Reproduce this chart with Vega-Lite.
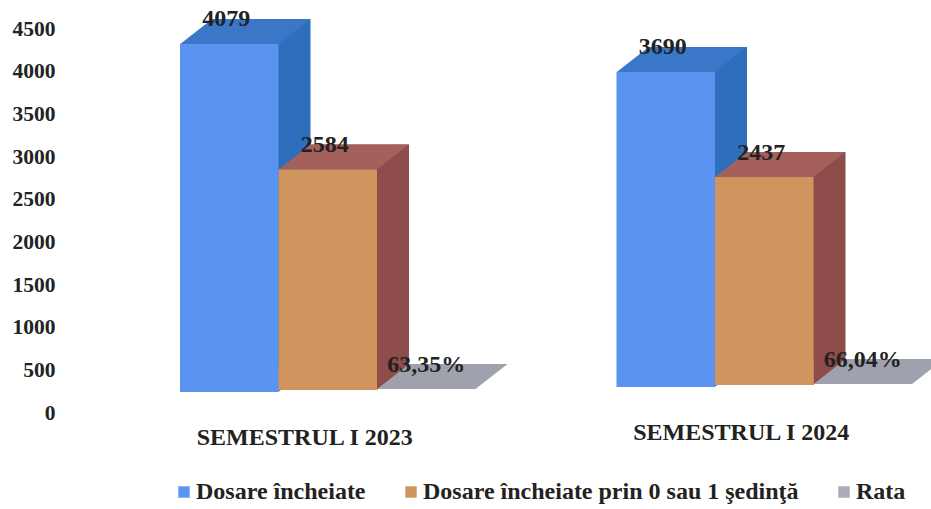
{
"$schema":"https://vega.github.io/schema/vega-lite/v6.json",
"width":871,"height":384,
"autosize":{"type":"none"},
"padding":{"left":60,"top":29,"right":0,"bottom":96},
"background":"#ffffff",
"datasets":{"main":[
{"semester":"SEMESTRUL I 2023","series":"Dosare încheiate","value":4079,"label":"4079"},
{"semester":"SEMESTRUL I 2023","series":"Dosare încheiate prin 0 sau 1 şedinţă","value":2584,"label":"2584"},
{"semester":"SEMESTRUL I 2023","series":"Rata","value":0.6335,"label":"63,35%"},
{"semester":"SEMESTRUL I 2024","series":"Dosare încheiate","value":3690,"label":"3690"},
{"semester":"SEMESTRUL I 2024","series":"Dosare încheiate prin 0 sau 1 şedinţă","value":2437,"label":"2437"},
{"semester":"SEMESTRUL I 2024","series":"Rata","value":0.6604,"label":"66,04%"}
]},
"data":{"name":"main"},
"encoding":{
"x":{"field":"semester","type":"nominal","title":null,"axis":null,"scale":{"range":[120,852],"paddingInner":0.323,"paddingOuter":0}}
},
"layer":[
{"mark":{"type":"bar","yOffset":{"expr":"-46-(datum.semester=='SEMESTRUL I 2024'?5:0)-(datum.series=='Rata'?3:datum.series=='Dosare încheiate'?0:2)"},"opacity":1},
 "encoding":{
  "xOffset":{"field":"series","type":"nominal","sort":null,"scale":{"domain":["Dosare încheiate","Dosare încheiate prin 0 sau 1 şedinţă","Rata"],"range":[32,327.5],"paddingInner":0,"paddingOuter":0}},
  "y":{"field":"value","type":"quantitative","scale":{"domain":[0,4500]},"title":null,
   "axis":{"values":[0,500,1000,1500,2000,2500,3000,3500,4000,4500],"grid":false,"ticks":false,"domain":false,"labelFont":"Liberation Serif","labelFontWeight":"bold","labelFontSize":21.5,"labelColor":"#222222","labelPadding":5,"format":"d"}},
  "color":{"field":"series","type":"nominal","legend":null,"sort":null,"scale":{"domain":["Dosare încheiate","Dosare încheiate prin 0 sau 1 şedinţă","Rata"],"range":["#2f6dbd","#8e4c4a","#9a9da8"]}}
 }},
{"mark":{"type":"point","filled":true,"opacity":1,"strokeWidth":0,"size":4,"shape":"M49,0L49,-25L81,-25Z","yOffset":{"expr":"-21-(datum.semester=='SEMESTRUL I 2024'?5:0)-(datum.series=='Rata'?3:datum.series=='Dosare încheiate'?0:2)"}},
 "encoding":{
  "xOffset":{"field":"series","type":"nominal","sort":null,"scale":{"domain":["Dosare încheiate","Dosare încheiate prin 0 sau 1 şedinţă","Rata"],"range":[49.25,246.25],"paddingInner":0,"paddingOuter":0}},
  "y":{"datum":0,"type":"quantitative"},
  "color":{"field":"series","type":"nominal","legend":null,"sort":null,"scale":{"domain":["Dosare încheiate","Dosare încheiate prin 0 sau 1 şedinţă","Rata"],"range":["#2f6dbd","#8e4c4a","#9a9da8"]}}
 }},
{"mark":{"type":"point","filled":true,"opacity":1,"strokeWidth":0,"size":4,"shape":"M-49,0L-17,-25L81,-25L49,0Z","yOffset":{"expr":"-21-(datum.semester=='SEMESTRUL I 2024'?5:0)-(datum.series=='Rata'?3:datum.series=='Dosare încheiate'?0:2)"}},
 "encoding":{
  "xOffset":{"field":"series","type":"nominal","sort":null,"scale":{"domain":["Dosare încheiate","Dosare încheiate prin 0 sau 1 şedinţă","Rata"],"range":[49.25,246.25],"paddingInner":0,"paddingOuter":0}},
  "y":{"field":"value","type":"quantitative"},
  "color":{"field":"series","type":"nominal","legend":null,"sort":null,"scale":{"domain":["Dosare încheiate","Dosare încheiate prin 0 sau 1 şedinţă","Rata"],"range":["#3a77c9","#a5605c","#9fa2ac"]}}
 }},
{"mark":{"type":"bar","opacity":1,"yOffset":{"expr":"-21-(datum.semester=='SEMESTRUL I 2024'?5:0)-(datum.series=='Rata'?3:datum.series=='Dosare încheiate'?0:2)"}},
 "encoding":{
  "xOffset":{"field":"series","type":"nominal","sort":null,"scale":{"domain":["Dosare încheiate","Dosare încheiate prin 0 sau 1 şedinţă","Rata"],"range":[0,295.5],"paddingInner":0,"paddingOuter":0}},
  "y":{"field":"value","type":"quantitative"},
  "color":{"field":"series","type":"nominal","sort":null,"title":null,"scale":{"domain":["Dosare încheiate","Dosare încheiate prin 0 sau 1 şedinţă","Rata"],"range":["#5b94f0","#d0955f","#a9acb8"]},
   "legend":{"orient":"none","direction":"horizontal","columns":3,"legendX":112,"legendY":451,"symbolType":"square","symbolSize":130,"symbolStrokeWidth":0,"labelFont":"Liberation Serif","labelFontWeight":"bold","labelFontSize":24,"labelColor":"#222222","labelLimit":500,"labelOffset":0,"columnPadding":33,"padding":0}}
 }},
{"mark":{"type":"text","font":"Liberation Serif","fontWeight":"bold","fontSize":24,"color":"#222222","baseline":"middle","align":"center","dx":{"expr":"datum.series=='Rata'?0:-3"},"yOffset":{"expr":"-46-(datum.semester=='SEMESTRUL I 2024'?5:0)-(datum.series=='Rata'?2:datum.series=='Dosare încheiate'?0:1)"}},
 "encoding":{
  "xOffset":{"field":"series","type":"nominal","sort":null,"scale":{"domain":["Dosare încheiate","Dosare încheiate prin 0 sau 1 şedinţă","Rata"],"range":[49.25,246.25],"paddingInner":0,"paddingOuter":0}},
  "y":{"field":"value","type":"quantitative"},
  "text":{"field":"label","type":"nominal"}
 }},
{"transform":[{"filter":"datum.series=='Rata'"}],
 "mark":{"type":"text","font":"Liberation Serif","fontWeight":"bold","fontSize":24,"color":"#222222","baseline":"middle","align":"center","dx":-23,"yOffset":{"expr":"datum.semester=='SEMESTRUL I 2024'?20:25"}},
 "encoding":{
  "y":{"datum":0,"type":"quantitative"},
  "text":{"field":"semester","type":"nominal"}
 }}
],
"resolve":{"scale":{"color":"independent","xOffset":"independent"}},
"config":{"view":{"stroke":null}}
}
